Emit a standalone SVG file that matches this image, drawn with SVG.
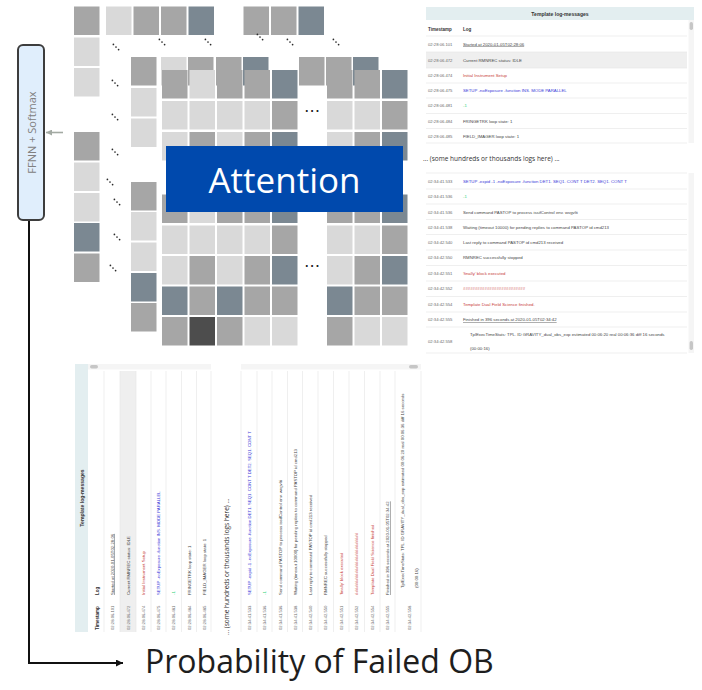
<svg xmlns="http://www.w3.org/2000/svg" width="702" height="690" viewBox="0 0 702 690">
<defs>
<style>
.L{fill:#d9d9d9}.G{fill:#a6a6a6}.S{fill:#7b8892}.D{fill:#4d4d4d}
.dg{font-family:"DejaVu Sans",sans-serif;fill:#222;text-anchor:middle}
.hd{font-family:"Liberation Sans",Arial,sans-serif;font-weight:bold;fill:#333}
.ts{font-family:"Liberation Sans",Arial,sans-serif;font-size:4.2px;fill:#6a6a6a}
.lg{font-family:"Liberation Sans",Arial,sans-serif;font-size:4.3px;fill:#444}
.red{fill:#c8403a}.blue{fill:#3a3ad8}.green{fill:#2fd27a}
.sep{stroke:#e4e4e4;stroke-width:0.6}
.u{text-decoration:underline}
.note{font-family:"Open Sans",sans-serif;font-size:6.5px;fill:#333}
.trk{fill:#f5f5f5}.thumb{fill:#c6c6c6}
</style>
<g id="diag-dots" fill="#2a2a2a">
<circle cx="-2.6" cy="-2.6" r="0.85"/><circle cx="0" cy="0" r="0.85"/><circle cx="2.6" cy="2.6" r="0.85"/>
</g>
<marker id="ah-black" viewBox="0 0 10 10" refX="10" refY="5" markerWidth="7" markerHeight="7" markerUnits="userSpaceOnUse" orient="auto">
<path d="M0,0 L10,5 L0,10 z" fill="#111"/>
</marker>
<marker id="ah-gray" viewBox="0 0 10 10" refX="10" refY="5" markerWidth="6" markerHeight="6" markerUnits="userSpaceOnUse" orient="auto">
<path d="M0,0 L10,5 L0,10 z" fill="#a3aaa3"/>
</marker>
</defs>

<!-- attention matrices: back layer (first row and column only) -->
<g id="layer-back">
<rect class="G" x="74" y="6.5" width="25.5" height="28.5"/>
<rect class="L" x="106" y="6.5" width="25.5" height="28.5"/>
<rect class="G" x="133.5" y="6.5" width="25.5" height="28.5"/>
<rect class="G" x="161" y="6.5" width="25.5" height="28.5"/>
<rect class="S" x="188.5" y="6.5" width="25.5" height="28.5"/>
<rect class="G" x="243.5" y="6.5" width="25.5" height="28.5"/>
<rect class="G" x="271" y="6.5" width="25.5" height="28.5"/>
<rect class="S" x="298.5" y="6.5" width="25.5" height="28.5"/>
<rect class="L" x="74" y="37.5" width="25.5" height="28.5"/>
<rect class="L" x="74" y="68" width="25.5" height="28.5"/>
<rect class="G" x="74" y="132" width="25.5" height="28.5"/>
<rect class="L" x="74" y="162.5" width="25.5" height="28.5"/>
<rect class="L" x="74" y="193" width="25.5" height="28.5"/>
<rect class="S" x="74" y="223" width="25.5" height="28.5"/>
<rect class="G" x="74" y="253.5" width="25.5" height="28.5"/>
</g>

<!-- middle layer (first row and column only) -->
<g id="layer-mid">
<rect class="G" x="131" y="57" width="25.5" height="28.5"/>
<rect class="L" x="161" y="57" width="25.5" height="28.5"/>
<rect class="G" x="188" y="57" width="25.5" height="28.5"/>
<rect class="G" x="216" y="57" width="25.5" height="28.5"/>
<rect class="S" x="243" y="57" width="25.5" height="28.5"/>
<rect class="G" x="299" y="57" width="25.5" height="28.5"/>
<rect class="G" x="326" y="57" width="25.5" height="28.5"/>
<rect class="S" x="353" y="57" width="25.5" height="28.5"/>
<rect class="L" x="131" y="88" width="25.5" height="28.5"/>
<rect class="L" x="131" y="118.5" width="25.5" height="28.5"/>
<rect class="G" x="131" y="182" width="25.5" height="28.5"/>
<rect class="L" x="131" y="212" width="25.5" height="28.5"/>
<rect class="L" x="131" y="242.5" width="25.5" height="28.5"/>
<rect class="S" x="131" y="273" width="25.5" height="28.5"/>
<rect class="G" x="131" y="303" width="25.5" height="28.5"/>
</g>

<!-- front layer (full matrix, ellipsis row 4 and column 6) -->
<g id="layer-front">
<rect class="G" x="162" y="70" width="25.5" height="28.5"/>
<rect class="L" x="189.5" y="70" width="25.5" height="28.5"/>
<rect class="G" x="217" y="70" width="25.5" height="28.5"/>
<rect class="G" x="244.5" y="70" width="25.5" height="28.5"/>
<rect class="S" x="272" y="70" width="25.5" height="28.5"/>
<rect class="G" x="327" y="70" width="25.5" height="28.5"/>
<rect class="G" x="354.5" y="70" width="25.5" height="28.5"/>
<rect class="S" x="382" y="70" width="25.5" height="28.5"/>

<rect class="L" x="162" y="101" width="25.5" height="28.5"/>
<rect class="L" x="189.5" y="101" width="25.5" height="28.5"/>
<rect class="L" x="217" y="101" width="25.5" height="28.5"/>
<rect class="L" x="244.5" y="101" width="25.5" height="28.5"/>
<rect class="G" x="272" y="101" width="25.5" height="28.5"/>
<rect class="L" x="327" y="101" width="25.5" height="28.5"/>
<rect class="L" x="354.5" y="101" width="25.5" height="28.5"/>
<rect class="G" x="382" y="101" width="25.5" height="28.5"/>

<rect class="L" x="162" y="132" width="25.5" height="28.5"/>
<rect class="G" x="189.5" y="132" width="25.5" height="28.5"/>
<rect class="L" x="217" y="132" width="25.5" height="28.5"/>
<rect class="G" x="244.5" y="132" width="25.5" height="28.5"/>
<rect class="S" x="272" y="132" width="25.5" height="28.5"/>
<rect class="L" x="327" y="132" width="25.5" height="28.5"/>
<rect class="G" x="354.5" y="132" width="25.5" height="28.5"/>
<rect class="S" x="382" y="132" width="25.5" height="28.5"/>

<rect class="G" x="162" y="194.5" width="25.5" height="28.5"/>
<rect class="L" x="189.5" y="194.5" width="25.5" height="28.5"/>
<rect class="G" x="217" y="194.5" width="25.5" height="28.5"/>
<rect class="G" x="244.5" y="194.5" width="25.5" height="28.5"/>
<rect class="S" x="272" y="194.5" width="25.5" height="28.5"/>
<rect class="G" x="327" y="194.5" width="25.5" height="28.5"/>
<rect class="G" x="354.5" y="194.5" width="25.5" height="28.5"/>
<rect class="S" x="382" y="194.5" width="25.5" height="28.5"/>

<rect class="L" x="162" y="225.5" width="25.5" height="28.5"/>
<rect class="L" x="189.5" y="225.5" width="25.5" height="28.5"/>
<rect class="L" x="217" y="225.5" width="25.5" height="28.5"/>
<rect class="L" x="244.5" y="225.5" width="25.5" height="28.5"/>
<rect class="G" x="272" y="225.5" width="25.5" height="28.5"/>
<rect class="L" x="327" y="225.5" width="25.5" height="28.5"/>
<rect class="L" x="354.5" y="225.5" width="25.5" height="28.5"/>
<rect class="G" x="382" y="225.5" width="25.5" height="28.5"/>

<rect class="L" x="162" y="256" width="25.5" height="28.5"/>
<rect class="G" x="189.5" y="256" width="25.5" height="28.5"/>
<rect class="L" x="217" y="256" width="25.5" height="28.5"/>
<rect class="G" x="244.5" y="256" width="25.5" height="28.5"/>
<rect class="S" x="272" y="256" width="25.5" height="28.5"/>
<rect class="L" x="327" y="256" width="25.5" height="28.5"/>
<rect class="G" x="354.5" y="256" width="25.5" height="28.5"/>
<rect class="S" x="382" y="256" width="25.5" height="28.5"/>

<rect class="S" x="162" y="286.5" width="25.5" height="28.5"/>
<rect class="G" x="189.5" y="286.5" width="25.5" height="28.5"/>
<rect class="S" x="217" y="286.5" width="25.5" height="28.5"/>
<rect class="G" x="244.5" y="286.5" width="25.5" height="28.5"/>
<rect class="G" x="272" y="286.5" width="25.5" height="28.5"/>
<rect class="S" x="327" y="286.5" width="25.5" height="28.5"/>
<rect class="G" x="354.5" y="286.5" width="25.5" height="28.5"/>
<rect class="G" x="382" y="286.5" width="25.5" height="28.5"/>

<rect class="G" x="162" y="317" width="25.5" height="28.5"/>
<rect class="D" x="189.5" y="317" width="25.5" height="28.5"/>
<rect class="G" x="217" y="317" width="25.5" height="28.5"/>
<rect class="L" x="244.5" y="317" width="25.5" height="28.5"/>
<rect class="L" x="272" y="317" width="25.5" height="28.5"/>
<rect class="G" x="327" y="317" width="25.5" height="28.5"/>
<rect class="L" x="354.5" y="317" width="25.5" height="28.5"/>
<rect class="L" x="382" y="317" width="25.5" height="28.5"/>
</g>

<!-- ellipsis marks between and inside the stacked matrices -->
<g id="ellipses">
<use href="#diag-dots" x="116" y="47"/>
<use href="#diag-dots" x="162" y="42"/>
<use href="#diag-dots" x="208" y="42"/>
<use href="#diag-dots" x="260" y="37"/>
<use href="#diag-dots" x="290" y="42"/>
<use href="#diag-dots" x="336" y="42"/>
<use href="#diag-dots" x="115" y="83"/>
<use href="#diag-dots" x="115" y="117"/>
<use href="#diag-dots" x="115" y="152"/>
<use href="#diag-dots" x="110" y="182"/>
<use href="#diag-dots" x="117" y="202"/>
<use href="#diag-dots" x="117" y="237"/>
<use href="#diag-dots" x="113" y="268"/>
<text class="dg" x="312" y="116" font-size="16">⋯</text>
<text class="dg" x="312" y="271" font-size="16">⋯</text>
</g>

<g id="attention">
<rect x="166" y="146" width="237" height="66" fill="#0049ad"/>
<text x="284.5" y="193" font-family="Open Sans, sans-serif" font-size="35" fill="#ffffff" text-anchor="middle">Attention</text>
</g>

<g id="ffnn">
<rect x="18" y="45" width="26" height="175" rx="5" fill="#e0eefc" stroke="#3d3d3d" stroke-width="2"/>
<text transform="translate(35.5,132.5) rotate(-90)" font-family="Open Sans, sans-serif" font-size="11" fill="#808080" text-anchor="middle">FFNN + Softmax</text>
</g>

<g id="connectors">
<line x1="63" y1="132.5" x2="46" y2="132.5" stroke="#a3aaa3" stroke-width="1.6" marker-end="url(#ah-gray)"/>
<path d="M29,221 V663 H123" fill="none" stroke="#111" stroke-width="2" marker-end="url(#ah-black)"/>
</g>

<g id="output">
<text x="145" y="673" font-family="Open Sans, sans-serif" font-size="32" fill="#1e1e1e">Probability of Failed OB</text>
</g>

<!-- log table, upright -->
<g id="log-upright">
<rect x="426" y="7" width="268" height="13" fill="#e3eef0"/>
<text class="hd" x="560" y="15.8" font-size="5.1" text-anchor="middle">Template log-messages</text>
<text class="hd" x="428" y="31" font-size="4.5">Timestamp</text>
<text class="hd" x="463" y="31" font-size="4.5">Log</text>
<rect x="426" y="52" width="261" height="16" fill="#efefef"/>
<g class="sep">
<line x1="426" y1="36" x2="687" y2="36"/><line x1="426" y1="52" x2="687" y2="52"/><line x1="426" y1="68" x2="687" y2="68"/><line x1="426" y1="83" x2="687" y2="83"/><line x1="426" y1="98" x2="687" y2="98"/><line x1="426" y1="113.5" x2="687" y2="113.5"/><line x1="426" y1="128.5" x2="687" y2="128.5"/><line x1="426" y1="143" x2="687" y2="143"/>
</g>
<rect class="trk" x="688.5" y="20" width="5.5" height="123"/>
<rect class="thumb" x="689.6" y="22" width="3.4" height="8" rx="1.7"/>
<text class="ts" x="428" y="45.5">02:28:06.101</text><text class="lg u" x="463" y="45.5">Started at 2020-01-05T02:28:06</text>
<text class="ts" x="428" y="61.5">02:28:06.472</text><text class="lg" x="463" y="61.5">Current RMNREC status: IDLE</text>
<text class="ts" x="428" y="77">02:28:06.474</text><text class="lg red" x="463" y="77">Initial Instrument Setup</text>
<text class="ts" x="428" y="92">02:28:06.475</text><text class="lg blue" x="463" y="92">SETUP -noExposure -function INS. MODE PARALLEL</text>
<text class="ts" x="428" y="107">02:28:06.481</text><text class="lg green" x="463" y="107">-1</text>
<text class="ts" x="428" y="122.5">02:28:06.484</text><text class="lg" x="463" y="122.5">FRINGETRK loop state: 1</text>
<text class="ts" x="428" y="137.5">02:28:06.485</text><text class="lg" x="463" y="137.5">FIELD_IMAGER loop state: 1</text>

<text class="note" x="423" y="160.5">... (some hundreds or thousands logs here) ...</text>

<g class="sep">
<line x1="426" y1="173" x2="687" y2="173"/><line x1="426" y1="189" x2="687" y2="189"/><line x1="426" y1="204" x2="687" y2="204"/><line x1="426" y1="219.5" x2="687" y2="219.5"/><line x1="426" y1="234.5" x2="687" y2="234.5"/><line x1="426" y1="250" x2="687" y2="250"/><line x1="426" y1="265.5" x2="687" y2="265.5"/><line x1="426" y1="281" x2="687" y2="281"/><line x1="426" y1="296.5" x2="687" y2="296.5"/><line x1="426" y1="312" x2="687" y2="312"/><line x1="426" y1="327" x2="687" y2="327"/><line x1="426" y1="353" x2="687" y2="353"/>
</g>
<rect class="trk" x="688.5" y="173" width="5.5" height="180"/>
<rect class="thumb" x="689.6" y="341" width="3.4" height="9" rx="1.7"/>
<text class="ts" x="428" y="182.5">02:34:41.533</text><text class="lg blue" x="463" y="182.5">SETUP -expid -1 -noExposure -function DET1. SEQ1. CONT T DET2. SEQ1. CONT T</text>
<text class="ts" x="428" y="198">02:34:41.536</text><text class="lg green" x="463" y="198">-1</text>
<text class="ts" x="428" y="213.5">02:34:41.536</text><text class="lg" x="463" y="213.5">Send command PASTOP to process issifControl env. wvgvlti</text>
<text class="ts" x="428" y="228.5">02:34:41.538</text><text class="lg" x="463" y="228.5">Waiting (timeout 10000) for pending replies to command PASTOP id cmd213</text>
<text class="ts" x="428" y="243.5">02:34:42.540</text><text class="lg" x="463" y="243.5">Last reply to command PASTOP id cmd213 received</text>
<text class="ts" x="428" y="259">02:34:42.550</text><text class="lg" x="463" y="259">RMNREC successfully stopped</text>
<text class="ts" x="428" y="274.5">02:34:42.551</text><text class="lg red" x="463" y="274.5">'finally' block executed</text>
<text class="ts" x="428" y="290">02:34:42.552</text><text class="lg red" x="463" y="290">##########################</text>
<text class="ts" x="428" y="305.5">02:34:42.554</text><text class="lg red" x="463" y="305.5">Template Dual Field Science finished.</text>
<text class="ts" x="428" y="321">02:34:42.555</text><text class="lg u" x="463" y="321">Finished in 396 seconds at 2020-01-05T02:34:42</text>
<text class="ts" x="428" y="343">02:34:42.558</text><text class="lg" x="470" y="336">TplExecTimeStats: TPL. ID GRAVITY_dual_obs_exp estimated 00:06:20 real 00:06:36 diff 16 seconds</text><text class="lg" x="470" y="350">(00:00:16)</text>
</g>

<!-- log table, turned on its side -->
<g id="log-rotated" transform="translate(68,1058) rotate(-90)">
<rect x="426" y="7" width="268" height="13" fill="#e3eef0"/>
<text class="hd" x="560" y="15.8" font-size="5.1" text-anchor="middle">Template log-messages</text>
<text class="hd" x="428" y="31" font-size="4.5">Timestamp</text>
<text class="hd" x="463" y="31" font-size="4.5">Log</text>
<rect x="426" y="52" width="261" height="16" fill="#efefef"/>
<g class="sep">
<line x1="426" y1="36" x2="687" y2="36"/><line x1="426" y1="52" x2="687" y2="52"/><line x1="426" y1="68" x2="687" y2="68"/><line x1="426" y1="83" x2="687" y2="83"/><line x1="426" y1="98" x2="687" y2="98"/><line x1="426" y1="113.5" x2="687" y2="113.5"/><line x1="426" y1="128.5" x2="687" y2="128.5"/><line x1="426" y1="143" x2="687" y2="143"/>
</g>
<rect class="trk" x="688.5" y="20" width="5.5" height="123"/>
<rect class="thumb" x="689.6" y="22" width="3.4" height="8" rx="1.7"/>
<text class="ts" x="428" y="45.5">02:28:06.101</text><text class="lg u" x="463" y="45.5">Started at 2020-01-05T02:28:06</text>
<text class="ts" x="428" y="61.5">02:28:06.472</text><text class="lg" x="463" y="61.5">Current RMNREC status: IDLE</text>
<text class="ts" x="428" y="77">02:28:06.474</text><text class="lg red" x="463" y="77">Initial Instrument Setup</text>
<text class="ts" x="428" y="92">02:28:06.475</text><text class="lg blue" x="463" y="92">SETUP -noExposure -function INS. MODE PARALLEL</text>
<text class="ts" x="428" y="107">02:28:06.481</text><text class="lg green" x="463" y="107">-1</text>
<text class="ts" x="428" y="122.5">02:28:06.484</text><text class="lg" x="463" y="122.5">FRINGETRK loop state: 1</text>
<text class="ts" x="428" y="137.5">02:28:06.485</text><text class="lg" x="463" y="137.5">FIELD_IMAGER loop state: 1</text>

<text class="note" x="423" y="160.5">... (some hundreds or thousands logs here) ...</text>

<g class="sep">
<line x1="426" y1="173" x2="687" y2="173"/><line x1="426" y1="189" x2="687" y2="189"/><line x1="426" y1="204" x2="687" y2="204"/><line x1="426" y1="219.5" x2="687" y2="219.5"/><line x1="426" y1="234.5" x2="687" y2="234.5"/><line x1="426" y1="250" x2="687" y2="250"/><line x1="426" y1="265.5" x2="687" y2="265.5"/><line x1="426" y1="281" x2="687" y2="281"/><line x1="426" y1="296.5" x2="687" y2="296.5"/><line x1="426" y1="312" x2="687" y2="312"/><line x1="426" y1="327" x2="687" y2="327"/><line x1="426" y1="353" x2="687" y2="353"/>
</g>
<rect class="trk" x="688.5" y="173" width="5.5" height="180"/>
<rect class="thumb" x="689.6" y="341" width="3.4" height="9" rx="1.7"/>
<text class="ts" x="428" y="182.5">02:34:41.533</text><text class="lg blue" x="463" y="182.5">SETUP -expid -1 -noExposure -function DET1. SEQ1. CONT T DET2. SEQ1. CONT T</text>
<text class="ts" x="428" y="198">02:34:41.536</text><text class="lg green" x="463" y="198">-1</text>
<text class="ts" x="428" y="213.5">02:34:41.536</text><text class="lg" x="463" y="213.5">Send command PASTOP to process issifControl env. wvgvlti</text>
<text class="ts" x="428" y="228.5">02:34:41.538</text><text class="lg" x="463" y="228.5">Waiting (timeout 10000) for pending replies to command PASTOP id cmd213</text>
<text class="ts" x="428" y="243.5">02:34:42.540</text><text class="lg" x="463" y="243.5">Last reply to command PASTOP id cmd213 received</text>
<text class="ts" x="428" y="259">02:34:42.550</text><text class="lg" x="463" y="259">RMNREC successfully stopped</text>
<text class="ts" x="428" y="274.5">02:34:42.551</text><text class="lg red" x="463" y="274.5">'finally' block executed</text>
<text class="ts" x="428" y="290">02:34:42.552</text><text class="lg red" x="463" y="290">##########################</text>
<text class="ts" x="428" y="305.5">02:34:42.554</text><text class="lg red" x="463" y="305.5">Template Dual Field Science finished.</text>
<text class="ts" x="428" y="321">02:34:42.555</text><text class="lg u" x="463" y="321">Finished in 396 seconds at 2020-01-05T02:34:42</text>
<text class="ts" x="428" y="343">02:34:42.558</text><text class="lg" x="470" y="336">TplExecTimeStats: TPL. ID GRAVITY_dual_obs_exp estimated 00:06:20 real 00:06:36 diff 16 seconds</text><text class="lg" x="470" y="350">(00:00:16)</text>
</g>
</svg>
